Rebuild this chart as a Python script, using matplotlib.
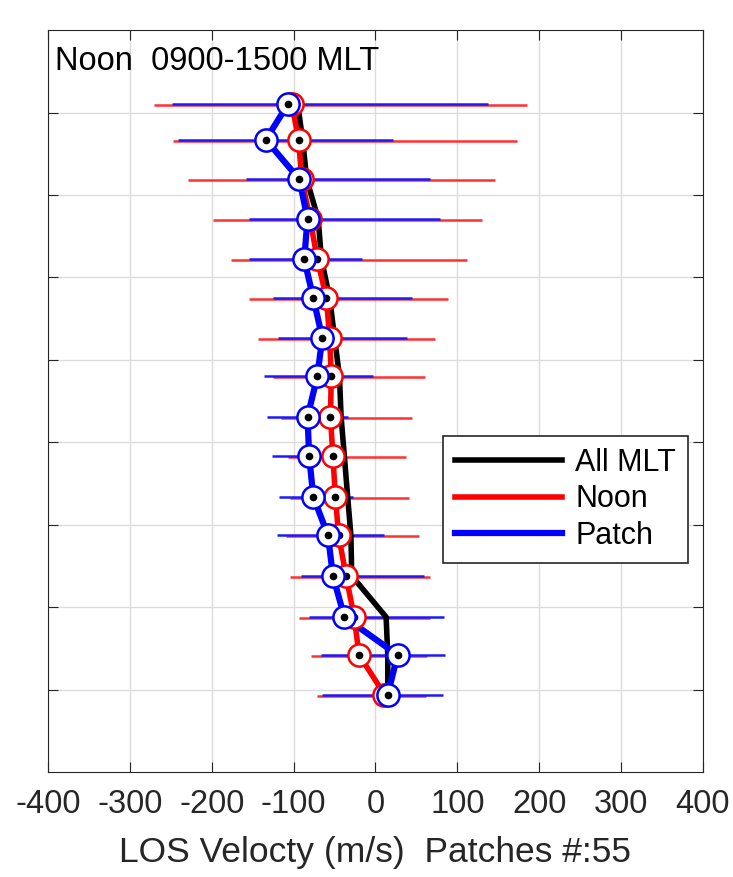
import numpy as np
import matplotlib.pyplot as plt

plt.rcParams['font.family'] = ['Liberation Sans', 'DejaVu Sans']
plt.rcParams['axes.unicode_minus'] = False

# bin positions (top -> bottom), y axis has no labels
ypos = [8.10, 7.67, 7.19, 6.71, 6.22, 5.75, 5.27, 4.80,
        4.31, 3.83, 3.34, 2.87, 2.38, 1.88, 1.42, 0.94]

# All MLT (black), no error bars
v_all = [-95, -89, -84, -70, -66, -56, -50, -44,
         -42, -38, -34, -30, -29, 13, 15, 15]

# Noon (red)
v_noon = [-102, -94, -90, -80, -71, -60, -56, -54,
          -55, -52, -49, -45, -36, -26, -20, 11]
noon_lo = [-270, -247, -229, -199, -176, -154, -144, -125,
           -115, -107, -105, -109, -104, -94, -79, -72]
noon_hi = [185, 173, 146, 130, 112, 88, 73, 60,
           44, 37, 41, 53, 66, 66, 63, 62]

# Patch (blue)
v_patch = [-107, -134, -93, -83, -87, -76, -65, -71,
           -83, -81, -76, -58, -52, -38, 27, 15]
patch_lo = [-249, -241, -158, -154, -154, -125, -119, -136,
            -133, -127, -118, -120, -91, -81, -67, -65]
patch_hi = [137, 21, 66, 79, -17, 44, 38, -3,
            -34, -50, -28, 10, 59, 84, 85, 82]

fig = plt.figure(figsize=(7.33, 8.77), dpi=100)
ax = fig.add_axes([0.0655, 0.1197, 0.8935, 0.846])

# error bars
ax.hlines(np.array(ypos) - 0.012, noon_lo, noon_hi, color='#ff3030', lw=1.8, zorder=1)
ax.hlines(ypos, patch_lo, patch_hi, color='#1a1aff', lw=1.8, zorder=1.1)

# lines
ax.plot(v_all, ypos, color='k', lw=4.0, zorder=2, label='All MLT')
ax.plot(v_noon, ypos, color='red', lw=4.0, zorder=2.1, label='Noon')
ax.plot(v_patch, ypos, color='blue', lw=4.5, zorder=2.2, label='Patch')

# markers
ax.plot(v_noon, ypos, 'o', ms=16, mfc='white', mec='red', mew=1.8, zorder=3)
ax.plot(v_noon, ypos, '.', color='k', ms=9, zorder=3.1)
ax.plot(v_patch, ypos, 'o', ms=16, mfc='white', mec='blue', mew=1.8, zorder=3.2)
ax.plot(v_patch, ypos, '.', color='k', ms=9, zorder=3.3)

ax.set_xlim(-400, 400)
ax.set_ylim(0, 9)
ax.set_xticks(np.arange(-400, 401, 100))
ax.set_yticks(np.arange(1, 9))
ax.set_yticklabels([])
ax.tick_params(axis='both', direction='in', top=True, right=True, length=7,
               labelsize=23.5, colors='#262626')
ax.tick_params(axis='x', pad=12)
ax.grid(True, color='#dcdcdc', lw=1)
ax.set_axisbelow(True)
for s in ax.spines.values():
    s.set_color('#262626')

ax.set_xlabel('LOS Velocty (m/s)  Patches #:55', fontsize=25.5, color='#262626', labelpad=12)
ax.text(0.01, 0.979, 'Noon  0900-1500 MLT', transform=ax.transAxes,
        fontsize=23.5, va='top', ha='left')

leg = ax.legend(loc='lower right', bbox_to_anchor=(0.977, 0.282), fontsize=22,
                handlelength=3.5, fancybox=False, framealpha=1,
                edgecolor='#262626', borderpad=0.38, labelspacing=0.22,
                handletextpad=0.45, borderaxespad=0)
leg.get_frame().set_linewidth(1.2)

fig.savefig('out.png', dpi=100)
